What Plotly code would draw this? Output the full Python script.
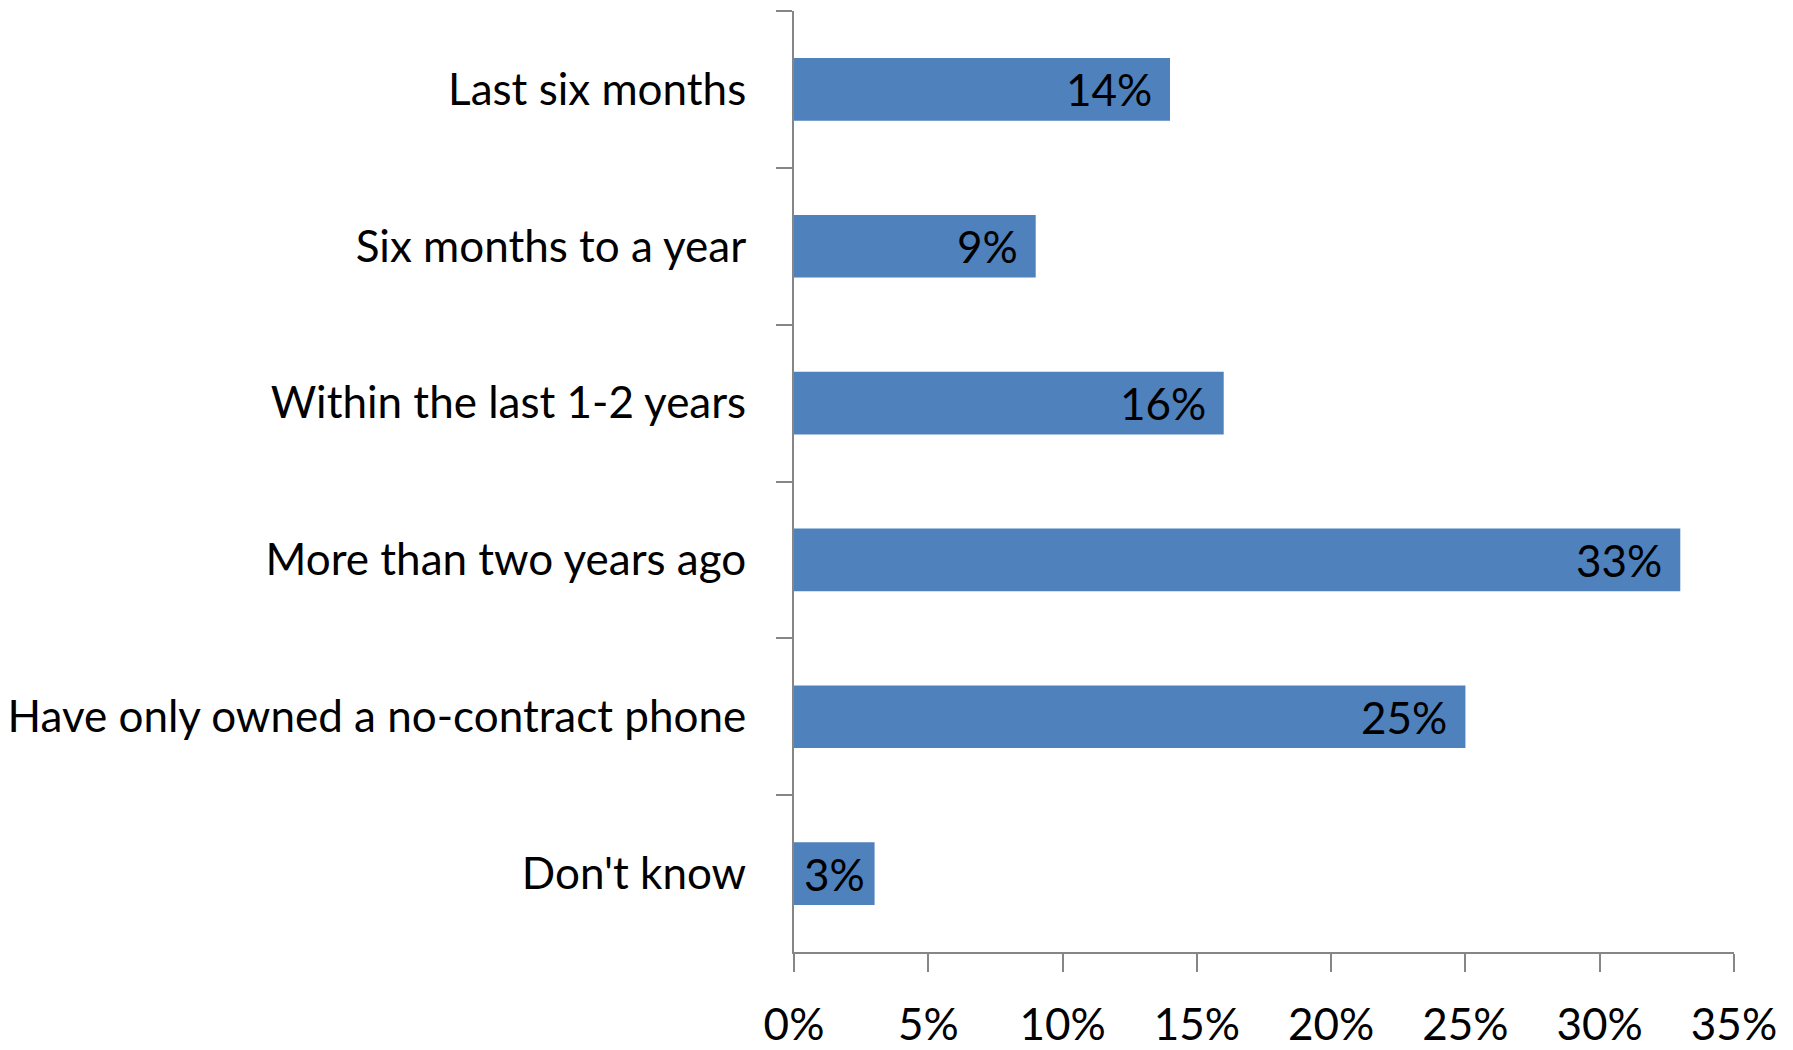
import plotly.graph_objects as go

# Survey responses: when the respondent last bought a contract phone
categories = [
    "Last six months",
    "Six months to a year",
    "Within the last 1-2 years",
    "More than two years ago",
    "Have only owned a no-contract phone",
    "Don't know",
]
shares = [14, 9, 16, 33, 25, 3]
x_ticks = [0, 5, 10, 15, 20, 25, 30, 35]
x_tick_labels = ["0%", "5%", "10%", "15%", "20%", "25%", "30%", "35%"]

BAR_COLOR = "#4F81BD"
AXIS_COLOR = "#868686"
FONT = "Lato"
FONT_SIZE = 44

fig = go.Figure(
    go.Bar(
        x=shares,
        y=categories,
        orientation="h",
        marker=dict(color=BAR_COLOR, line=dict(width=0)),
        width=0.4,
        hoverinfo="skip",
    )
)

# value labels sit just inside the end of each bar; a bar too short for
# that padding gets its label centred instead
for cat, val in zip(categories, shares):
    if val < 5:
        pos = dict(x=val / 2, xanchor="center", xshift=0)
    else:
        pos = dict(x=val, xanchor="right", xshift=-16)
    fig.add_annotation(
        y=cat, text=f"{val}%", showarrow=False, yanchor="middle",
        font=dict(family=FONT, size=FONT_SIZE, color="#000000"),
        **pos,
    )

fig.update_layout(
    width=1793, height=1050,
    margin=dict(l=794, r=59, t=11, b=98),
    paper_bgcolor="white", plot_bgcolor="white",
    showlegend=False,
    font=dict(family=FONT, size=FONT_SIZE, color="#000000"),
)

fig.update_xaxes(
    range=[0, 35], automargin=False,
    tickmode="array", tickvals=x_ticks, ticktext=x_tick_labels,
    showgrid=False, zeroline=False,
    showline=True, linecolor=AXIS_COLOR, linewidth=2,
    ticks="outside", ticklen=18, tickwidth=2, tickcolor=AXIS_COLOR,
    ticklabelstandoff=15,
    tickfont=dict(family=FONT, size=FONT_SIZE, color="#000000"),
)

fig.update_yaxes(
    type="category", autorange="reversed", automargin=False,
    showgrid=False, zeroline=False,
    showline=True, linecolor=AXIS_COLOR, linewidth=2,
    ticks="outside", ticklen=16, tickwidth=2, tickcolor=AXIS_COLOR,
    tickson="boundaries",
    ticklabelstandoff=37,
    tickfont=dict(family=FONT, size=FONT_SIZE, color="#000000"),
)

fig.write_html("out.html")
